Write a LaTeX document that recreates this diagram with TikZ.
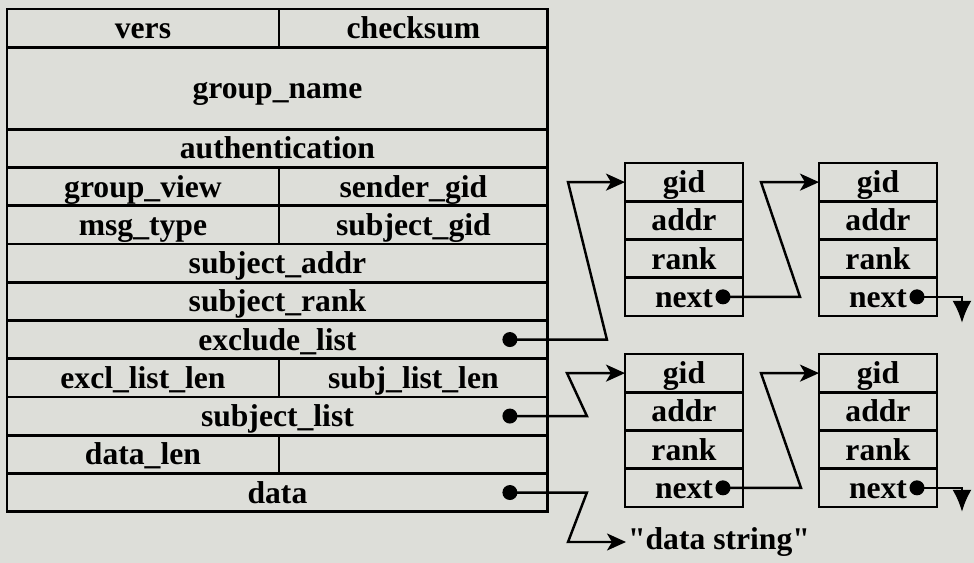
\documentclass[tikz,border=0pt]{standalone}
\usepackage{fontspec}
\setmainfont{Liberation Serif}
\usetikzlibrary{positioning,arrows.meta}
\definecolor{paper}{RGB}{221,222,217}

\begin{document}
\begin{tikzpicture}[x=0.02cm,y=-0.02cm,
    cell/.style={draw,line width=1.6pt,inner sep=0,outer sep=0,anchor=north west,
      minimum height=0.765cm,text height=14pt,text depth=2pt,
      font=\bfseries\fontsize{18}{20}\selectfont},
    full/.style={cell,minimum width=10.82cm},
    lhalf/.style={cell,minimum width=5.44cm},
    rhalf/.style={cell,minimum width=5.38cm},
    item/.style={cell,minimum width=2.36cm},
    dot/.style={circle,fill,inner sep=0,minimum size=0.3cm},
    ptr/.style={line width=1.4pt,-{Stealth[length=0.38cm,width=0.34cm,inset=0.1cm]}},
    nil/.style={line width=1.4pt,-{Latex[length=0.44cm,width=0.38cm]}}]
  \fill[paper] (0,0) rectangle (974,563);
  \useasboundingbox (0,0) rectangle (974,563);

  % message header
  \node[lhalf] (vers) at (7,9) {vers};
  \node[rhalf] (csum) at (vers.north east) {checksum};
  \node[full,minimum height=1.64cm] (gname) at (vers.south west) {group\_name};
  \node[full] (auth) at (gname.south west) {authentication};
  \node[lhalf] (gview) at (auth.south west) {group\_view};
  \node[rhalf] (sgid) at (gview.north east) {sender\_gid};
  \node[lhalf] (mtype) at (gview.south west) {msg\_type};
  \node[rhalf] (subgid) at (mtype.north east) {subject\_gid};
  \node[full] (saddr) at (mtype.south west) {subject\_addr};
  \node[full] (srank) at (saddr.south west) {subject\_rank};
  \node[full] (excl) at (srank.south west) {exclude\_list};
  \node[lhalf] (exlen) at (excl.south west) {excl\_list\_len};
  \node[rhalf] (sllen) at (exlen.north east) {subj\_list\_len};
  \node[full] (slist) at (exlen.south west) {subject\_list};
  \node[lhalf] (dlen) at (slist.south west) {data\_len};
  \node[rhalf] (blank) at (dlen.north east) {};
  \node[full] (data) at (dlen.south west) {data};

  % member lists
  \node[item] (ga) at (625,163) {gid};
  \node[item] (aa) at (ga.south west) {addr};
  \node[item] (ra) at (aa.south west) {rank};
  \node[item] (na) at (ra.south west) {next};
  \node[item] (gb) at (819,163) {gid};
  \node[item] (ab) at (gb.south west) {addr};
  \node[item] (rb) at (ab.south west) {rank};
  \node[item] (nb) at (rb.south west) {next};
  \node[item] (gc) at (625,354) {gid};
  \node[item] (ac) at (gc.south west) {addr};
  \node[item] (rc) at (ac.south west) {rank};
  \node[item] (nc) at (rc.south west) {next};
  \node[item] (gd) at (819,354) {gid};
  \node[item] (ad) at (gd.south west) {addr};
  \node[item] (rd) at (ad.south west) {rank};
  \node[item] (nd) at (rd.south west) {next};
  \node[anchor=west,inner sep=1pt,font=\bfseries\fontsize{18}{20}\selectfont]
    (dstr) at (626,542) {\textquotedbl data string\textquotedbl};

  % pointers
  \node[dot] (exd) at ([xshift=-0.76cm]excl.east) {};
  \node[dot] (sld) at ([xshift=-0.76cm]slist.east) {};
  \node[dot] (dd) at ([xshift=-0.76cm]data.east) {};
  \node[dot] (nad) at ([xshift=-0.4cm]na.east) {};
  \node[dot] (nbd) at ([xshift=-0.4cm]nb.east) {};
  \node[dot] (ncd) at ([xshift=-0.4cm]nc.east) {};
  \node[dot] (ndd) at ([xshift=-0.4cm]nd.east) {};

  \draw[ptr] (exd.center) -- ++(97,0) -- ([xshift=-1.14cm]ga.west) -- (ga.west);
  \draw[ptr] (nad.center) -- ++(77,0) -- ([xshift=-1.16cm]gb.west) -- (gb.west);
  \draw[nil] (nbd.center) -- ++(45,0) -- ++(0,26);
  \draw[ptr] (sld.center) -- ++(77,0) -- ([xshift=-1.16cm]gc.west) -- (gc.west);
  \draw[ptr] (ncd.center) -- ++(78,0) -- ([xshift=-1.16cm]gd.west) -- (gd.west);
  \draw[nil] (ndd.center) -- ++(45,0) -- ++(0,24);
  \draw[ptr] (dd.center) -- ++(77,0) -- ([xshift=-1.16cm]dstr.west) -- (dstr.west);
\end{tikzpicture}
\end{document}
